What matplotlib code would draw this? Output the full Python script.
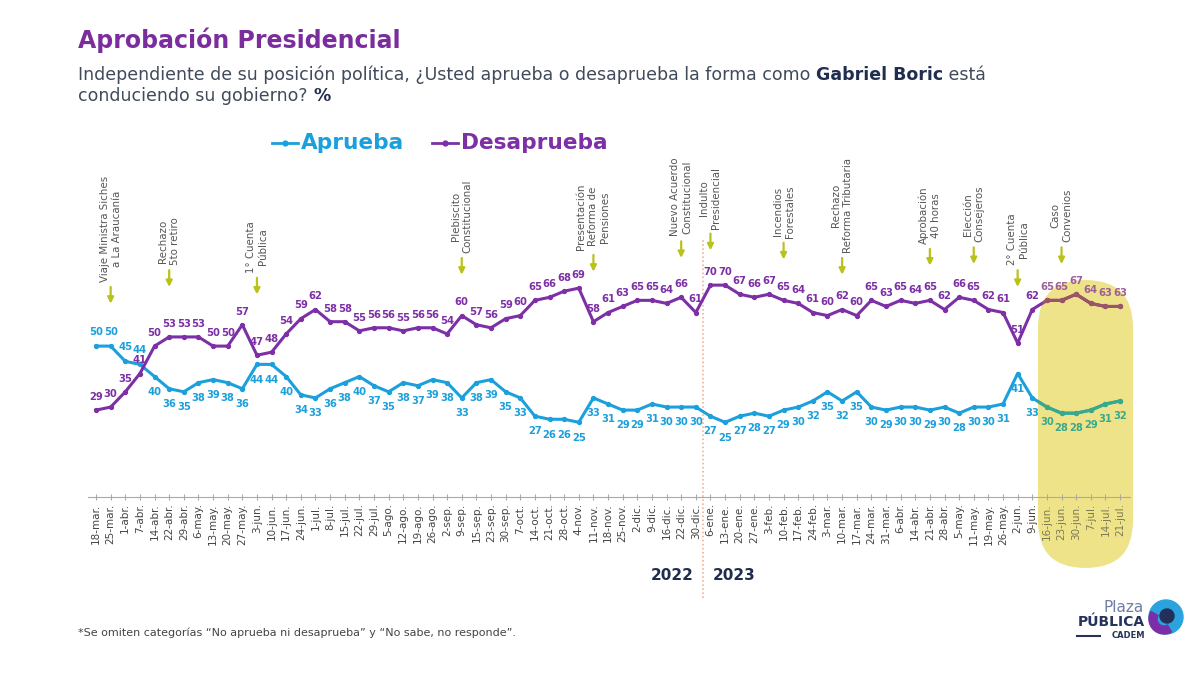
import matplotlib
matplotlib.use("Agg")
import matplotlib.pyplot as plt
from matplotlib.lines import Line2D
from matplotlib.patches import FancyBboxPatch, Circle, Wedge

plt.rcParams['font.family'] = ['DejaVu Sans']

# Fechas (semanas) mar-2022 a jul-2023
fechas = ["18-mar.", "25-mar.", "1-abr.", "7-abr.", "14-abr.", "22-abr.", "29-abr.", "6-may.",
          "13-may.", "20-may.", "27-may.", "3-jun.", "10-jun.", "17-jun.", "24-jun.", "1-jul.",
          "8-jul.", "15-jul.", "22-jul.", "29-jul.", "5-ago.", "12-ago.", "19-ago.", "26-ago.",
          "2-sep.", "9-sep.", "15-sep.", "23-sep.", "30-sep.", "7-oct.", "14-oct.", "21-oct.",
          "28-oct.", "4-nov.", "11-nov.", "18-nov.", "25-nov.", "2-dic.", "9-dic.", "16-dic.",
          "22-dic.", "30-dic.", "6-ene.", "13-ene.", "20-ene.", "27-ene.", "3-feb.", "10-feb.",
          "17-feb.", "24-feb.", "3-mar.", "10-mar.", "17-mar.", "24-mar.", "31-mar.", "6-abr.",
          "14-abr.", "21-abr.", "28-abr.", "5-may.", "11-may.", "19-may.", "26-may.", "2-jun.",
          "9-jun.", "16-jun.", "23-jun.", "30-jun.", "7-jul.", "14-jul.", "21-jul."]

aprueba = [50, 50, 45, 44, 40, 36, 35, 38, 39, 38, 36, 44, 44, 40, 34, 33, 36, 38, 40, 37,
           35, 38, 37, 39, 38, 33, 38, 39, 35, 33, 27, 26, 26, 25, 33, 31, 29, 29, 31, 30,
           30, 30, 27, 25, 27, 28, 27, 29, 30, 32, 35, 32, 35, 30, 29, 30, 30, 29, 30, 28,
           30, 30, 31, 41, 33, 30, 28, 28, 29, 31, 32]

desaprueba = [29, 30, 35, 41, 50, 53, 53, 53, 50, 50, 57, 47, 48, 54, 59, 62, 58, 58, 55, 56,
              56, 55, 56, 56, 54, 60, 57, 56, 59, 60, 65, 66, 68, 69, 58, 61, 63, 65, 65, 64,
              66, 61, 70, 70, 67, 66, 67, 65, 64, 61, 60, 62, 60, 65, 63, 65, 64, 65, 62, 66,
              65, 62, 61, 51, 62, 65, 65, 67, 64, 63, 63]

# Hitos marcados con flecha
hitos = ["Viaje Ministra Siches\na La Araucanía", "Rechazo\n5to retiro", "1° Cuenta\nPública",
         "Plebiscito\nConstitucional", "Presentación\nReforma de\nPensiones",
         "Nuevo Acuerdo\nConstitucional", "Indulto\nPresidencial", "Incendios\nForestales",
         "Rechazo\nReforma Tributaria", "Aprobación\n40 horas", "Elección\nConsejeros",
         "2° Cuenta\nPública", "Caso\nConvenios"]
hitos_fecha = ["25-mar.", "22-abr.", "3-jun.", "9-sep.", "11-nov.", "22-dic.", "6-ene.",
               "10-feb.", "10-mar.", "21-abr.", "11-may.", "2-jun.", "23-jun."]
hitos_alto = [63, 68.5, 66, 72.5, 73.5, 78, 80.5, 77.5, 72.5, 75.5, 76, 68.5, 76]

AZUL = '#1ba0dc'
MORADO = '#7d2fa6'
x = list(range(len(fechas)))
inicio_resaltado = fechas.index("16-jun.")

fig = plt.figure(figsize=(12, 6.75), dpi=100)
ax = fig.add_axes([88 / 1200, 0.2637, 1042 / 1200, 0.514])
ax.set_facecolor('none')

# zona resaltada (detrás del gráfico)
pill = FancyBboxPatch((10.38, 1.07), 0.95, 2.88, boxstyle="round,pad=0,rounding_size=0.475",
                      transform=fig.dpi_scale_trans, facecolor='#efe38a', edgecolor='none',
                      zorder=-5)
fig.add_artist(pill)

ax.plot(x, aprueba, color=AZUL, lw=2.2, marker='o', ms=2.8, zorder=3)
ax.plot(x, desaprueba, color=MORADO, lw=2.2, marker='o', ms=2.8, zorder=3)
# mismas series teñidas dentro de la zona amarilla
for serie, col in [(aprueba, '#3aa98a'), (desaprueba, '#9a5566')]:
    ln, = ax.plot(x, serie, color=col, lw=2.2, marker='o', ms=2.8, zorder=4)
    ln.set_clip_path(pill)

for i in x:
    col_a = '#3aa98a' if i >= inicio_resaltado else AZUL
    col_d = '#9c5f98' if i >= inicio_resaltado else MORADO
    off_a = 10 if i < 4 else -11
    ax.annotate(str(aprueba[i]), (i, aprueba[i]), xytext=(0, off_a), textcoords='offset points',
                ha='center', va='center', fontsize=7.2, fontweight='bold', color=col_a, zorder=5)
    ax.annotate(str(desaprueba[i]), (i, desaprueba[i]), xytext=(0, 9.5), textcoords='offset points',
                ha='center', va='center', fontsize=7.2, fontweight='bold', color=col_d, zorder=5)

# flechas de hitos
for txt, f, alto in zip(hitos, hitos_fecha, hitos_alto):
    i = fechas.index(f)
    ax.annotate('', xy=(i, alto), xytext=(i, alto + 7.3),
                arrowprops=dict(arrowstyle='-|>', color='#b9c21c', lw=1.6, mutation_scale=9))
    ax.text(i, alto + 8.0, txt, rotation=90, ha='center', va='bottom', multialignment='center',
            fontsize=7.4, color='#555555', linespacing=1.25)

ax.set_xlim(-0.55, 70.68)
ax.set_ylim(0.5, 114.3)
ax.set_xticks(x)
ax.set_xticklabels(fechas, rotation=90, fontsize=7.5, color='#444444')
for i, lab in enumerate(ax.get_xticklabels()):
    if i >= inicio_resaltado:
        lab.set_color('#7b7a55')
ax.tick_params(axis='x', direction='inout', length=5, color='#aaaaaa', pad=2)
ax.set_yticks([])
for s in ['top', 'right', 'left']:
    ax.spines[s].set_visible(False)
ax.spines['bottom'].set_color('#aaaaaa')

# separador de años
sep = fechas.index("30-dic.") + 0.5
ax.plot([sep, sep], [-0.29, 0.74], transform=ax.get_xaxis_transform(), clip_on=False,
        ls=':', lw=1.1, color='#f4a582', zorder=1)
ax.annotate('2022', (sep, -0.225), xycoords=ax.get_xaxis_transform(), xytext=(-7, 0),
            textcoords='offset points', ha='right', va='center', fontsize=11,
            fontweight='bold', color='#1f2d4d')
ax.annotate('2023', (sep, -0.225), xycoords=ax.get_xaxis_transform(), xytext=(7, 0),
            textcoords='offset points', ha='left', va='center', fontsize=11,
            fontweight='bold', color='#1f2d4d')

# títulos
fig.text(78 / 1200, 1 - 40 / 675, 'Aprobación Presidencial', fontsize=17, fontweight='bold',
         color='#7b2d9e', va='center')

renderer = fig.canvas.get_renderer()


def texto_mixto(piezas, x0, y0):
    xx = x0
    for t, peso, col in piezas:
        tt = fig.text(xx, y0, t, fontsize=12.5, fontweight=peso, color=col, va='center')
        xx += tt.get_window_extent(renderer).width / 1200


GRIS = '#404a5a'
NAVY = '#1f2d4f'
texto_mixto([("Independiente de su posición política, ¿Usted aprueba o desaprueba la forma como ",
              'normal', GRIS), ("Gabriel Boric", 'bold', NAVY), (" está", 'normal', GRIS)],
            78 / 1200, 1 - 75 / 675)
texto_mixto([("conduciendo su gobierno? ", 'normal', GRIS), ("%", 'bold', NAVY)],
            78 / 1200, 1 - 96 / 675)

# leyenda
yl = 1 - 143 / 675
for (x0, x1, xt, nombre, col) in [(272, 298, 301, 'Aprueba', AZUL),
                                  (432, 458, 461, 'Desaprueba', MORADO)]:
    fig.add_artist(Line2D([x0 / 1200, x1 / 1200], [yl, yl], transform=fig.transFigure,
                          color=col, lw=2))
    fig.add_artist(Line2D([(x0 + x1) / 2400], [yl], transform=fig.transFigure, color=col,
                          marker='o', ms=3.5))
    fig.text(xt / 1200, yl, nombre, fontsize=15.6, fontweight='bold', color=col, va='center')

fig.text(78 / 1200, 1 - 633 / 675,
         '*Se omiten categorías “No aprueba ni desaprueba” y “No sabe, no responde”.',
         fontsize=8, color='#444444', va='center')

# logo
fig.text(1144 / 1200, 1 - 607 / 675, 'Plaza', fontsize=11, color='#6f7fa3', ha='right', va='center')
fig.text(1145 / 1200, 1 - 622 / 675, 'PÚBLICA', fontsize=10, fontweight='bold', color='#26335a',
         ha='right', va='center')
fig.text(1145 / 1200, 1 - 636 / 675, 'CADEM', fontsize=6, fontweight='bold', color='#26335a',
         ha='right', va='center')
fig.add_artist(Line2D([1077 / 1200, 1100 / 1200], [1 - 636 / 675] * 2, transform=fig.transFigure,
                      color='#26335a', lw=1.5))
cx, cy = 11.66, 6.75 - 6.17
fig.add_artist(Circle((cx, cy), 0.17, transform=fig.dpi_scale_trans, color='#2aa3de'))
fig.add_artist(Wedge((cx - 0.02, cy - 0.02), 0.15, 150, 300, width=0.08,
                     transform=fig.dpi_scale_trans, color='#7a2fa8'))
fig.add_artist(Circle((cx + 0.01, cy + 0.01), 0.07, transform=fig.dpi_scale_trans, color='#22305a'))

fig.savefig('out.png', dpi=100)
